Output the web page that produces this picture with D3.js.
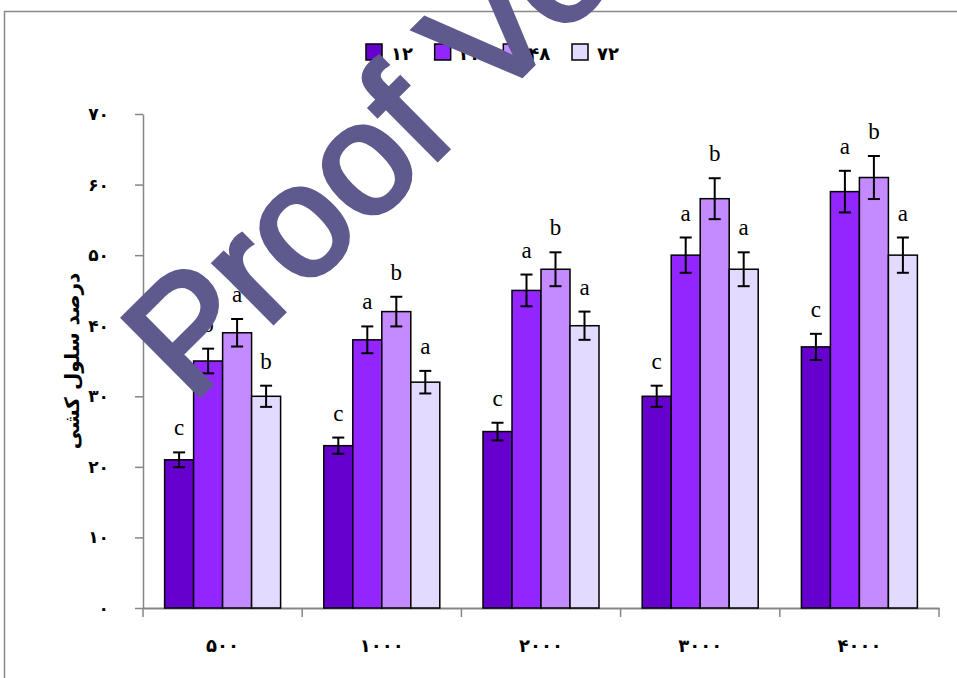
<!DOCTYPE html>
<html>
<head>
<meta charset="utf-8">
<script src="https://cdn.jsdelivr.net/npm/d3@7"></script>
<style>
  body { margin: 0; background: #fff; }
  svg { display: block; }
</style>
</head>
<body>
<div id="chart"></div>
<script>
// data
const categories = ["۵۰۰", "۱۰۰۰", "۲۰۰۰", "۳۰۰۰", "۴۰۰۰"];
const seriesNames = ["۱۲", "۲۴", "۴۸", "۷۲"];
const h12 = [21, 23, 25, 30, 37];
const h24 = [35, 38, 45, 50, 59];
const h48 = [39, 42, 48, 58, 61];
const h72 = [30, 32, 40, 48, 50];
const err12 = [1.05, 1.15, 1.25, 1.5, 1.85];
const err24 = [1.75, 1.9, 2.25, 2.5, 2.95];
const err48 = [1.95, 2.1, 2.4, 2.9, 3.05];
const err72 = [1.5, 1.6, 2.0, 2.4, 2.5];
const let12 = ["c", "c", "c", "c", "c"];
const let24 = ["b", "a", "a", "a", "a"];
const let48 = ["a", "b", "b", "b", "b"];
const let72 = ["b", "a", "a", "a", "a"];
const yTicks = [0, 10, 20, 30, 40, 50, 60, 70];
const yTickLabels = ["۰", "۱۰", "۲۰", "۳۰", "۴۰", "۵۰", "۶۰", "۷۰"];
const yTitle = "درصد سلول کشی";
const colors = ["#6600cc", "#9326ff", "#c48aff", "#e2daff"];

const series = [
  { name: seriesNames[0], vals: h12, errs: err12, lets: let12 },
  { name: seriesNames[1], vals: h24, errs: err24, lets: let24 },
  { name: seriesNames[2], vals: h48, errs: err48, lets: let48 },
  { name: seriesNames[3], vals: h72, errs: err72, lets: let72 }
];

const rows = [];
series.forEach((s, si) => {
  categories.forEach((c, ci) => {
    rows.push({ cat: c, ser: s.name, si: si, v: s.vals[ci], e: s.errs[ci], l: s.lets[ci] });
  });
});

const W = 957, H = 678;
const svg = d3.select("#chart").append("svg")
  .attr("width", W)
  .attr("height", H);

// outer chart border
svg.append("rect")
  .attr("x", 4.5).attr("y", 11.5)
  .attr("width", 1000).attr("height", 1000)
  .attr("fill", "none")
  .attr("stroke", "#888")
  .attr("stroke-width", 1.5);

const plot = { left: 143, right: 939, top: 114, bottom: 608 };

const x0 = d3.scaleBand()
  .domain(categories)
  .range([plot.left, plot.right])
  .padding(0);

const x1 = d3.scaleBand()
  .domain(seriesNames)
  .range([21.6, x0.bandwidth() - 21.6])
  .padding(0);

const y = d3.scaleLinear()
  .domain([0, 70])
  .range([plot.bottom, plot.top]);

const persian = "'DejaVu Sans', sans-serif";

// Y axis
const yAxis = svg.append("g")
  .attr("transform", `translate(${plot.left},0)`)
  .call(d3.axisLeft(y)
    .tickValues(yTicks)
    .tickFormat((d, i) => yTickLabels[i])
    .tickSize(8)
    .tickSizeOuter(0)
    .tickPadding(26));
yAxis.select(".domain").attr("stroke", "#868686").attr("stroke-width", 1.5);
yAxis.selectAll(".tick line").attr("stroke", "#868686").attr("stroke-width", 1.5);
yAxis.selectAll(".tick text")
  .attr("fill", "#000")
  .style("font-family", persian)
  .style("font-weight", "bold")
  .style("font-size", "17px");

// X axis
const xAxis = svg.append("g")
  .attr("transform", `translate(0,${plot.bottom})`)
  .call(d3.axisBottom(x0).tickSize(0).tickSizeOuter(0).tickPadding(31));
xAxis.select(".domain").attr("stroke", "#868686").attr("stroke-width", 2);
xAxis.selectAll(".tick text")
  .attr("fill", "#000")
  .style("font-family", persian)
  .style("font-weight", "bold")
  .style("font-size", "18px");
// category boundary ticks
const bounds = categories.map(c => x0(c)).concat([x0(categories[categories.length - 1]) + x0.bandwidth()]);
xAxis.selectAll("line.bound")
  .data(bounds)
  .join("line")
  .attr("class", "bound")
  .attr("x1", d => d).attr("x2", d => d)
  .attr("y1", 0).attr("y2", 9)
  .attr("stroke", "#868686")
  .attr("stroke-width", 1.5);

// Y title
svg.append("text")
  .attr("transform", `translate(72,${(plot.top + plot.bottom) / 2}) rotate(-90)`)
  .attr("text-anchor", "middle")
  .attr("dy", "0.35em")
  .style("font-family", persian)
  .style("font-weight", "bold")
  .style("font-size", "20px")
  .text(yTitle);

// bars
const bx = d => x0(d.cat) + x1(d.ser);
svg.append("g").selectAll("rect")
  .data(rows)
  .join("rect")
  .attr("x", bx)
  .attr("y", d => y(d.v))
  .attr("width", x1.bandwidth())
  .attr("height", d => y(0) - y(d.v))
  .attr("fill", d => colors[d.si])
  .attr("stroke", "#000")
  .attr("stroke-width", 1.5);

// error bars
const eb = svg.append("g").attr("stroke", "#000").attr("stroke-width", 2);
const cx = d => bx(d) + x1.bandwidth() / 2;
eb.selectAll("line.v").data(rows).join("line").attr("class", "v")
  .attr("x1", cx).attr("x2", cx)
  .attr("y1", d => y(d.v + d.e)).attr("y2", d => y(d.v - d.e));
eb.selectAll("line.t").data(rows).join("line").attr("class", "t")
  .attr("x1", d => cx(d) - 6).attr("x2", d => cx(d) + 6)
  .attr("y1", d => y(d.v + d.e)).attr("y2", d => y(d.v + d.e));
eb.selectAll("line.b").data(rows).join("line").attr("class", "b")
  .attr("x1", d => cx(d) - 6).attr("x2", d => cx(d) + 6)
  .attr("y1", d => y(d.v - d.e)).attr("y2", d => y(d.v - d.e));

// significance letters
svg.append("g").selectAll("text")
  .data(rows)
  .join("text")
  .attr("x", cx)
  .attr("y", d => y(d.v + d.e) - 17)
  .attr("text-anchor", "middle")
  .style("font-family", "'Liberation Serif', 'Times New Roman', serif")
  .style("font-size", "23px")
  .text(d => d.l);

// legend
const legend = svg.append("g");
const lx = d3.scalePoint().domain(seriesNames).range([366, 572]);
const li = legend.selectAll("g").data(seriesNames).join("g")
  .attr("transform", d => `translate(${lx(d)},44)`);
li.append("rect")
  .attr("width", 16).attr("height", 16)
  .attr("fill", (d, i) => colors[i])
  .attr("stroke", "#000")
  .attr("stroke-width", 1.5);
li.append("text")
  .attr("x", 25).attr("y", 16)
  .style("font-family", persian)
  .style("font-weight", "bold")
  .style("font-size", "18px")
  .text(d => d);

// watermark
svg.append("text")
  .attr("transform", "translate(191,404) rotate(-44.8)")
  .style("font-family", "'Liberation Sans', Arial, sans-serif")
  .style("font-size", "158px")
  .attr("fill", "#5e5a8e")
  .attr("stroke", "#5e5a8e")
  .attr("stroke-width", 5)
  .attr("stroke-linejoin", "miter")
  .text("Proof Version");
</script>
</body>
</html>
